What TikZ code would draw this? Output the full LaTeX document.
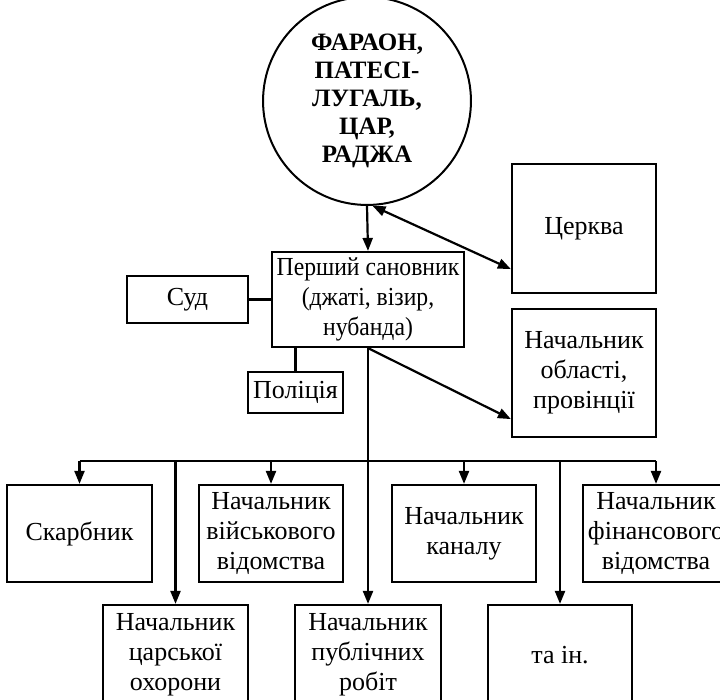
\documentclass[tikz,border=0pt]{standalone}
\usepackage{fontspec}
\setmainfont{Liberation Serif}
\newfontfamily\condfont{Liberation Serif}[FakeStretch=0.91]
\usetikzlibrary{arrows.meta,calc}
\begin{document}
\begin{tikzpicture}[x=1pt,y=-1pt,
  every node/.style={inner sep=0pt,align=center,font=\fontsize{26}{30}\selectfont},
  box/.style={draw,line width=2.2pt,rectangle},
  conn/.style={line width=2.2pt},
  tip/.tip={Triangle[length=13pt,width=10pt]},
  arr/.style={conn,-tip},
  darr/.style={conn,tip-tip}
]
\useasboundingbox (0,0) rectangle (720,700);
\node[draw,circle,line width=2pt,minimum size=192pt,font=\fontsize{25}{28}\selectfont\bfseries] (ruler) at (367,101)
  {\raisebox{-4pt}{\parbox{160pt}{\centering ФАРАОН,\\ПАТЕСІ-\\ЛУГАЛЬ,\\ЦАР,\\РАДЖА}}};
\node[box,minimum width=192pt,minimum height=95pt,font=\condfont\fontsize{26}{30}\selectfont] (first) at (368,299.5) {\raisebox{-3pt}{\parbox{185pt}{\centering Перший сановник\\(джаті, візир,\\нубанда)}}};
\node[box,minimum width=121pt,minimum height=47pt] (sud) at (187.5,299.5) {Суд};
\node[box,minimum width=95pt,minimum height=41pt] (pol) at (295.5,392.5) {Поліція};
\node[box,minimum width=144pt,minimum height=129pt] (church) at (584,228.5) {Церква};
\node[box,minimum width=144pt,minimum height=128pt] (prov) at (584,373) {Начальник\\області,\\провінції};
\node[box,minimum width=145pt,minimum height=97pt] (treas) at (79.5,533.5) {Скарбник};
\node[box,minimum width=144pt,minimum height=97pt] (army) at (271,533.5) {Начальник\\військового\\відомства};
\node[box,minimum width=144pt,minimum height=97pt] (canal) at (464,533.5) {Начальник\\каналу};
\node[box,minimum width=146pt,minimum height=97pt] (fin) at (656,533.5) {Начальник\\фінансового\\відомства};
\node[box,minimum width=145pt,minimum height=100pt] (guard) at (175.5,655) {Начальник\\царської\\охорони};
\node[box,minimum width=146pt,minimum height=100pt] (pub) at (368,655) {Начальник\\публічних\\робіт};
\node[box,minimum width=144pt,minimum height=100pt] (etc) at (560,655) {та ін.};
\coordinate (bus) at (0,461);
% connectors
\draw[arr] (ruler.south) -- (first.north);
\draw[darr] (ruler.-87) -- ([yshift=25pt]church.south west);
\draw[arr] (first.south) -- ([yshift=19pt]prov.south west);
\draw[conn] (sud.east) -- (first.west);
\draw[conn] (pol.north |- first.south) -- (pol.north);
\draw[arr] (first.south) -- (pub.north);
\draw[conn] (treas.north |- bus) -- (fin.north |- bus);
\draw[arr] (treas.north |- bus) -- (treas.north);
\draw[arr] (army.north |- bus) -- (army.north);
\draw[arr] (canal.north |- bus) -- (canal.north);
\draw[arr] (fin.north |- bus) -- (fin.north);
\draw[arr] (guard.north |- bus) -- (guard.north);
\draw[arr] (etc.north |- bus) -- (etc.north);
\end{tikzpicture}
\end{document}
